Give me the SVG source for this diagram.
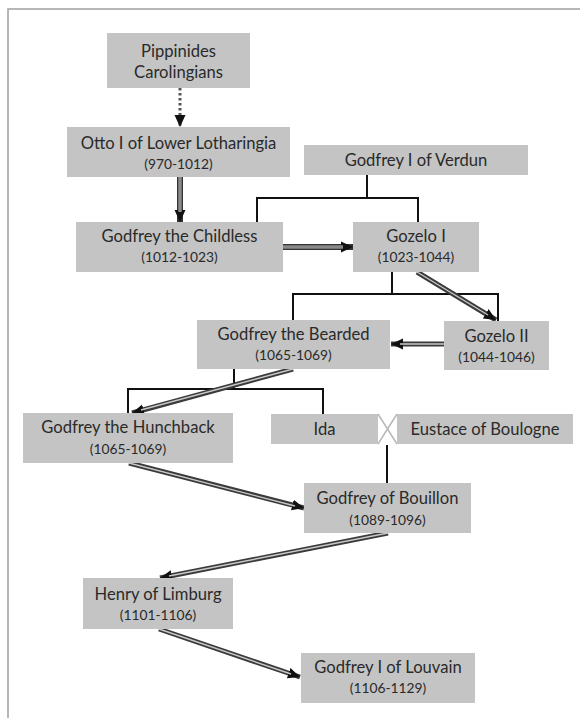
<svg xmlns="http://www.w3.org/2000/svg" width="580" height="718" viewBox="0 0 580 718">
<style>
.box{fill:#c4c4c4}
.nm{font-family:Lato,"Liberation Sans",sans-serif;font-size:16.6px;fill:#2a2a2a;text-anchor:middle}
.dt{font-family:Lato,"Liberation Sans",sans-serif;font-size:13.8px;fill:#2a2a2a;text-anchor:middle}
.br{fill:none;stroke:#111;stroke-width:2}
.dbl{fill:none;stroke:#3a3a3a;stroke-width:5;marker-end:url(#ah)}
.dblin{fill:none;stroke:#c8c8c8;stroke-width:1.4}
.thk{fill:none;stroke:#333;stroke-width:6;marker-end:url(#ah)}
.thkin{fill:none;stroke:#8a8a8a;stroke-width:3.5}
</style>
<defs>
<marker id="ah" markerUnits="userSpaceOnUse" markerWidth="12" markerHeight="12" viewBox="0 0 12 12" refX="12" refY="6" orient="auto">
<path d="M0,0.5 L12,6 L0,11.5 Z" fill="#111"/>
</marker>
</defs>
<rect width="580" height="718" fill="#fff"/>
<path d="M8,718 V9 H580" fill="none" stroke="#a0a0a0" stroke-width="1.5"/>

<g id="connectors">
<path class="br" d="M367,175 V198 M257,222 V198 H418 V222"/>
<path class="br" d="M392,272 V294 M293,320 V294 H498 V321"/>
<path class="br" d="M234,369 V389 M128,413 V389 H323 V414"/>
<path class="br" d="M387,445 V483"/>
<path d="M378,414 L397,444 M397,414 L378,444" fill="none" stroke="#b8b8b8" stroke-width="1.5"/>
<path d="M180,88 V127" fill="none" stroke="#555" stroke-width="3" stroke-dasharray="2.5 2.5" marker-end="url(#ah)"/>
<path class="thk" d="M180,177 V222"/><path class="thkin" d="M180,177 V212"/>
<path class="thk" d="M283,247 H353"/><path class="thkin" d="M283,247 H343"/>
<path class="dbl" d="M417,272 L496,320"/><path class="dblin" d="M417,272 L488,315"/>
<path class="dbl" d="M444,344 L391,344"/><path class="dblin" d="M444,344 L400,344"/>
<path class="dbl" d="M293,369 L132,413"/><path class="dblin" d="M293,369 L141,410"/>
<path class="dbl" d="M129,463 L304,508"/><path class="dblin" d="M129,463 L295,506"/>
<path class="dbl" d="M388,533 L160,578"/><path class="dblin" d="M388,533 L169,576"/>
<path class="dbl" d="M159,629 L300,677"/><path class="dblin" d="M159,629 L291,674"/>
</g>

<g id="pippinides"><rect class="box" x="107" y="33" width="143" height="55"/>
<text class="nm" x="178.5" y="57">Pippinides</text><text class="nm" x="178.5" y="78">Carolingians</text></g>
<g id="otto"><rect class="box" x="67" y="127" width="223" height="50"/>
<text class="nm" x="178.5" y="149">Otto I of Lower Lotharingia</text><text class="dt" x="178.5" y="169">(970-1012)</text></g>
<g id="verdun"><rect class="box" x="304" y="145" width="224" height="30"/>
<text class="nm" x="416" y="166">Godfrey I of Verdun</text></g>
<g id="childless"><rect class="box" x="76" y="222" width="207" height="50"/>
<text class="nm" x="179.5" y="242">Godfrey the Childless</text><text class="dt" x="179.5" y="262">(1012-1023)</text></g>
<g id="gozelo1"><rect class="box" x="353" y="222" width="126" height="50"/>
<text class="nm" x="416" y="242">Gozelo I</text><text class="dt" x="416" y="262">(1023-1044)</text></g>
<g id="bearded"><rect class="box" x="197" y="320" width="193" height="49"/>
<text class="nm" x="293.5" y="340">Godfrey the Bearded</text><text class="dt" x="293.5" y="360">(1065-1069)</text></g>
<g id="gozelo2"><rect class="box" x="444" y="321" width="105" height="49"/>
<text class="nm" x="496.5" y="342">Gozelo II</text><text class="dt" x="496.5" y="362">(1044-1046)</text></g>
<g id="hunchback"><rect class="box" x="23" y="413" width="210" height="50"/>
<text class="nm" x="128" y="433">Godfrey the Hunchback</text><text class="dt" x="128" y="454">(1065-1069)</text></g>
<g id="ida"><rect class="box" x="271" y="414" width="107" height="30"/>
<text class="nm" x="324.5" y="435">Ida</text></g>
<g id="eustace"><rect class="box" x="397" y="414" width="176" height="30"/>
<text class="nm" x="485" y="435">Eustace of Boulogne</text></g>
<g id="bouillon"><rect class="box" x="304" y="483" width="167" height="50"/>
<text class="nm" x="387.5" y="504">Godfrey of Bouillon</text><text class="dt" x="387.5" y="525">(1089-1096)</text></g>
<g id="henry"><rect class="box" x="83" y="578" width="150" height="51"/>
<text class="nm" x="158" y="600">Henry of Limburg</text><text class="dt" x="158" y="620">(1101-1106)</text></g>
<g id="louvain"><rect class="box" x="301" y="653" width="174" height="50"/>
<text class="nm" x="388" y="673">Godfrey I of Louvain</text><text class="dt" x="388" y="693">(1106-1129)</text></g>
</svg>
